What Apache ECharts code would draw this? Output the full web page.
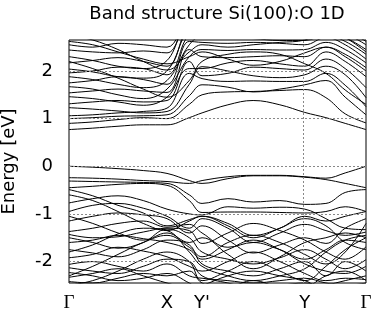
<!DOCTYPE html>
<html><head><meta charset="utf-8">
<script src="https://cdn.jsdelivr.net/npm/echarts@6/dist/echarts.min.js"></script>
<style>html,body{margin:0;padding:0;background:#fff}#c{width:373px;height:312px}</style>
</head><body><div id="c"></div>
<script>
// k-path sample positions (fraction of path)
const kPoints = [0, 0.08, 0.165, 0.25, 0.33, 0.405, 0.448, 0.535, 0.62, 0.71, 0.794, 0.865, 0.93, 1.0];
const kTickPos = [0, 0.33, 0.448, 0.794, 1.0];
const kTickLabels = ['Γ', 'X', "Y'", 'Y', 'Γ'];
const energyTicks = [-2, -1, 0, 1, 2];
const titleText = 'Band structure Si(100):O 1D';
const yName = 'Energy [eV]';

// conduction bands (eV) at kPoints
const c1  = [0.77,0.80,0.84,0.87,0.87,1.02,1.12,1.29,1.38,1.29,1.13,1.02,0.90,0.77];
const c2  = [0.90,0.93,0.98,1.02,1.00,1.30,1.50,1.56,1.57,1.59,1.61,1.44,1.10,0.91];
const c3  = [1.00,1.02,1.05,1.06,1.08,1.48,1.71,1.66,1.56,1.62,1.71,1.80,1.45,1.08];
const c4  = [1.06,1.08,1.12,1.15,1.22,1.95,1.84,1.78,1.79,1.78,1.78,1.95,1.70,1.25];
const c5  = [1.23,1.20,1.16,1.12,1.15,1.72,2.09,2.00,1.90,1.86,1.92,2.10,1.92,1.44];
const c6  = [1.31,1.35,1.38,1.35,1.38,2.20,1.90,1.95,2.08,2.05,2.02,2.25,2.05,1.65];
const c7  = [1.46,1.42,1.35,1.28,1.45,2.05,2.05,2.17,2.22,2.15,2.10,2.40,2.20,1.88];
const c8  = [1.54,1.58,1.62,1.58,1.55,2.45,2.30,2.28,2.30,2.32,2.30,2.50,2.35,2.07];
const c9  = [1.67,1.62,1.50,1.42,1.62,2.30,2.45,2.43,2.45,2.44,2.45,2.60,2.45,2.17];
const c10 = [1.75,1.80,1.88,1.82,1.72,2.62,2.60,2.58,2.60,2.58,2.55,2.70,2.55,2.25];
const c11 = [1.88,1.82,1.72,1.65,1.80,2.55,2.72,2.70,2.68,2.64,2.64,2.75,2.62,2.35];
const c12 = [1.96,2.00,2.08,2.05,1.92,2.75,2.80,2.78,2.75,2.70,2.72,2.80,2.70,2.45];
const c13 = [2.04,1.98,1.88,1.85,2.00,2.85,2.90,2.85,2.80,2.80,2.80,2.85,2.78,2.55];
const c14 = [2.17,2.22,2.28,2.20,2.10,2.95,3.00,2.95,2.90,2.92,2.90,2.92,2.85,2.62];
const c15 = [2.30,2.22,2.10,2.05,2.22,3.00,3.00,3.00,3.00,3.00,3.00,3.00,2.92,2.70];
const c16 = [2.44,2.40,2.38,2.42,2.38,3.00,3.00,3.00,3.00,3.00,3.00,3.00,2.95,2.80];
const c17 = [2.55,2.50,2.58,2.55,2.50,3.00,3.00,3.00,3.00,3.00,3.00,3.00,3.00,2.90];
const c18 = [2.62,2.55,2.40,2.25,2.15,2.30,2.40,2.25,2.12,2.20,2.38,2.50,2.30,2.00];
const c19 = [2.75,2.65,2.45,2.20,2.02,2.40,2.55,2.50,2.55,2.60,2.65,2.85,2.70,2.40];
const c20 = [2.20,2.05,1.85,1.62,1.45,1.80,2.20,2.35,2.40,2.35,2.15,1.95,1.60,1.30];

// valence bands (eV) at kPoints
const v1  = [0.00,-0.02,-0.05,-0.09,-0.15,-0.30,-0.36,-0.26,-0.20,-0.20,-0.23,-0.28,-0.36,-0.45];
const v2  = [-0.24,-0.25,-0.27,-0.30,-0.32,-0.36,-0.30,-0.22,-0.19,-0.19,-0.22,-0.25,-0.14,0.00];
const v3  = [-0.31,-0.32,-0.33,-0.34,-0.36,-0.60,-0.78,-0.68,-0.75,-0.72,-0.80,-0.78,-0.55,-0.49];
const v4  = [-0.45,-0.42,-0.38,-0.36,-0.40,-0.72,-0.97,-0.96,-0.96,-0.97,-0.98,-0.95,-0.85,-0.95];
const v5  = [-0.49,-0.62,-0.82,-0.98,-1.25,-1.12,-1.05,-1.20,-1.45,-1.30,-1.05,-1.15,-1.05,-0.95];
const v6  = [-0.77,-0.68,-0.62,-0.72,-0.90,-1.00,-1.02,-0.85,-0.88,-0.86,-0.90,-1.10,-1.30,-1.33];
const v7  = [-0.95,-0.82,-0.78,-0.88,-1.05,-1.30,-1.10,-1.30,-1.60,-1.40,-1.22,-1.35,-1.45,-1.38];
const v8  = [-1.15,-1.05,-0.98,-1.02,-1.10,-1.40,-1.25,-1.55,-1.82,-1.65,-1.50,-1.62,-1.30,-1.10];
const v9  = [-1.37,-1.30,-1.20,-1.15,-1.28,-1.22,-1.40,-1.70,-1.60,-1.75,-1.95,-1.75,-1.55,-1.60];
const v10 = [-1.43,-1.50,-1.48,-1.38,-1.30,-1.35,-1.62,-1.40,-1.20,-1.35,-1.55,-1.80,-1.95,-1.69];
const v11 = [-1.50,-1.60,-1.72,-1.60,-1.32,-1.50,-1.80,-1.95,-2.05,-1.92,-1.75,-1.95,-2.15,-1.96];
const v12 = [-1.60,-1.55,-1.45,-1.52,-1.60,-1.75,-1.95,-1.75,-1.55,-1.75,-2.05,-2.20,-2.25,-2.10];
const v13 = [-1.75,-1.82,-1.90,-1.75,-1.55,-1.65,-2.05,-2.20,-2.30,-2.15,-2.00,-2.30,-2.00,-2.20];
const v14 = [-1.92,-1.85,-1.70,-1.78,-1.90,-2.10,-2.20,-2.00,-1.80,-2.00,-2.25,-2.40,-2.35,-2.38];
const v15 = [-2.06,-2.00,-2.10,-2.20,-2.05,-2.30,-2.35,-2.40,-2.45,-2.40,-2.35,-2.45,-2.50,-2.45];
const v16 = [-2.13,-2.20,-2.25,-2.10,-1.95,-2.00,-2.30,-2.45,-2.55,-2.50,-2.45,-2.55,-2.60,-2.55];
const v17 = [-2.23,-2.30,-2.40,-2.35,-2.25,-2.45,-2.60,-2.55,-2.40,-2.55,-2.60,-2.50,-2.40,-2.30];
const v18 = [-2.33,-2.25,-2.15,-2.30,-2.45,-2.55,-2.50,-2.30,-2.20,-2.30,-2.40,-2.60,-2.55,-2.50];
const v19 = [-2.42,-2.45,-2.35,-2.25,-2.30,-2.20,-2.45,-2.60,-2.65,-2.60,-2.55,-2.30,-2.20,-2.40];
const v20 = [-0.60,-0.72,-0.95,-1.20,-1.35,-1.15,-1.05,-1.25,-1.50,-1.30,-1.10,-1.25,-1.60,-1.75];
const v21 = [-1.05,-1.20,-1.40,-1.55,-1.40,-1.60,-1.50,-1.85,-2.15,-1.90,-1.60,-1.50,-1.40,-1.50];
const v22 = [-1.80,-1.65,-1.42,-1.30,-1.35,-1.80,-2.10,-2.30,-2.40,-2.30,-2.15,-1.80,-1.55,-1.45];
const v23 = [-2.30,-2.10,-1.85,-1.60,-1.45,-1.70,-1.90,-1.60,-1.45,-1.60,-1.85,-2.05,-1.80,-1.20];
const v24 = [-2.50,-2.40,-2.20,-1.95,-1.80,-2.00,-2.40,-2.20,-2.00,-2.20,-2.40,-2.10,-1.75,-1.50];

const bands = [c1,c2,c3,c4,c5,c6,c7,c8,c9,c10,c11,c12,c13,c14,c15,c16,c17,c18,c19,c20,
               v1,v2,v3,v4,v5,v6,v7,v8,v9,v10,v11,v12,v13,v14,v15,v16,v17,v18,v19,v20,v21,v22,v23,v24];

const FONT = 'DejaVu Sans';
const chart = echarts.init(document.getElementById('c'), null, {renderer: 'canvas'});

const series = bands.map(b => ({
  type: 'line', data: kPoints.map((k, i) => [k, b[i]]),
  showSymbol: false, smooth: 0.4, silent: true, clip: true,
  lineStyle: {color: '#000', width: 1}
}));
series.push({
  type: 'line', data: [], silent: true,
  markLine: {
    symbol: 'none', silent: true, label: {show: false},
    lineStyle: {color: '#888', type: [2, 2], width: 1},
    data: energyTicks.map(e => ({yAxis: e})).concat([{xAxis: kTickPos[3]}])
  }
});

chart.setOption({
  animation: false,
  graphic: [{type: 'text', x: 217, y: 14, style: {text: titleText, fontFamily: FONT, fontSize: 18, fill: '#000', textAlign: 'center', textVerticalAlign: 'middle'}}],
  grid: {left: 69, right: 7, top: 40, bottom: 29, show: true, borderColor: '#000', borderWidth: 1,
         backgroundColor: 'transparent', containLabel: false, outerBoundsMode: 'none'},
  xAxis: {
    type: 'value', min: 0, max: 1,
    axisLine: {show: false}, splitLine: {show: false},
    axisTick: {show: false},
    axisLabel: {
      customValues: kTickPos, margin: 11, fontFamily: FONT, fontSize: 18, color: '#000',
      formatter: v => {
        const i = kTickPos.findIndex(p => Math.abs(p - v) < 1e-6);
        const t = i >= 0 ? kTickLabels[i] : '';
        return t === 'Γ' ? '{g|Γ}' : t;
      },
      rich: {g: {fontFamily: 'Liberation Serif', fontSize: 19, color: '#000'}}
    }
  },
  yAxis: {
    type: 'value', min: -2.45, max: 2.65,
    name: yName, nameLocation: 'middle', nameRotate: 90, nameGap: 51, nameMoveOverlap: false,
    nameTextStyle: {fontFamily: FONT, fontSize: 18, color: '#000'},
    axisLine: {show: false}, splitLine: {show: false},
    axisTick: {show: false},
    axisLabel: {customValues: energyTicks, margin: 16, fontFamily: FONT, fontSize: 18, color: '#000'}
  },
  series: series
});
</script></body></html>
